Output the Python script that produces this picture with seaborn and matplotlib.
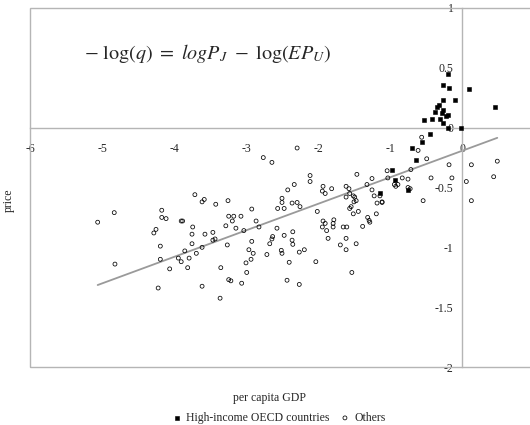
import numpy as np
import pandas as pd
import matplotlib
matplotlib.use("Agg")
import matplotlib.pyplot as plt
from matplotlib.patches import Rectangle
import seaborn as sns

# data (log per capita GDP relative to US, log price level)
oecd_gdp = [-0.19, -0.26, -0.18, 0.10, -0.10, -0.26, -0.32, -0.35, -0.38, -0.26,
            -0.28, -0.22, -0.19, -0.31, -0.26, -0.42, -0.53, 0.46, -0.19, -0.01,
            -0.44, -0.56, -0.69, -0.64, -0.97, -0.93, -0.75, -1.14]
oecd_price = [0.45, 0.36, 0.33, 0.32, 0.23, 0.23, 0.19, 0.17, 0.13, 0.15,
              0.12, 0.10, 0.11, 0.075, 0.04, 0.075, 0.06, 0.17, 0.0, 0.0,
              -0.05, -0.12, -0.17, -0.27, -0.35, -0.44, -0.52, -0.55]

other_gdp = [-5.06, -4.83, -4.82, -4.17, -4.17, -4.11, -3.90, -3.88, -4.25, -4.28,
             -4.19, -4.19, -3.94, -3.90, -4.06, -4.22, -3.85,
             -2.76, -2.64, -3.71, -3.61, -3.58, -3.42, -3.25, -2.92, -3.24,
             -3.17, -3.07, -3.19, -2.86, -3.28, -3.14, -3.03, -2.82, -2.57,
             -3.74, -3.75, -3.57, -3.46, -3.43, -3.46, -2.63, -2.64, -2.67,
             -2.92, -3.75, -3.26, -3.61, -2.96, -2.90, -3.69, -2.71, -3.79,
             -2.93, -3.00, -3.81, -3.35, -2.99, -3.24, -3.21, -3.06, -3.61,
             -3.36, -2.56,
             -2.29, -2.11, -2.11, -2.33, -2.42, -1.46, -1.32, -1.25, -1.93,
             -1.94, -1.90, -1.81, -1.61, -1.57, -1.25, -1.56, -1.51, -1.61,
             -1.49, -1.47, -1.50, -1.22, -2.50, -2.50, -2.29, -2.36, -2.25,
             -2.47, -1.54, -1.56, -2.01, -1.51, -1.44, -1.31, -1.29, -1.28,
             -1.93, -1.90, -1.78, -1.79, -1.94, -1.79, -1.65, -1.60, -1.38,
             -1.88, -2.35, -2.47, -1.86, -1.61, -2.36, -2.35, -1.47, -1.69,
             -1.61, -2.19, -2.26, -2.51, -2.50, -2.40, -2.03, -1.53, -2.43,
             -2.26,
             -0.56, -0.61, -0.49, -0.43, -1.04, -1.03, -0.83, -0.71, -0.94,
             -0.92, -0.89, -0.75, -0.75, -0.72, -1.14, -1.18, -1.11, -1.11,
             -0.54, -1.19,
             -0.18, 0.13, 0.49, -0.14, 0.06, 0.44, 0.13]
other_price = [-0.79, -0.71, -1.14, -0.69, -0.75, -0.76, -0.78, -0.78, -0.85, -0.88,
               -0.99, -1.10, -1.09, -1.12, -1.18, -1.34, -1.03,
               -0.25, -0.29, -0.56, -0.62, -0.60, -0.64, -0.61, -0.68, -0.74,
               -0.74, -0.74, -0.78, -0.78, -0.82, -0.84, -0.86, -0.83, -0.84,
               -0.83, -0.89, -0.89, -0.875, -0.93, -0.94, -0.91, -0.93, -0.97,
               -0.95, -0.97, -0.98, -1.00, -1.02, -1.05, -1.05, -1.06, -1.09,
               -1.10, -1.13, -1.17, -1.17, -1.21, -1.27, -1.28, -1.30, -1.325,
               -1.425, -0.675,
               -0.17, -0.40, -0.45, -0.475, -0.52, -0.39, -0.475, -0.425, -0.49,
               -0.53, -0.55, -0.51, -0.49, -0.51, -0.52, -0.55, -0.57, -0.58,
               -0.58, -0.61, -0.62, -0.57, -0.59, -0.625, -0.625, -0.63, -0.66,
               -0.675, -0.66, -0.675, -0.70, -0.72, -0.70, -0.75, -0.775, -0.79,
               -0.78, -0.80, -0.77, -0.80, -0.83, -0.83, -0.83, -0.83, -0.825,
               -0.86, -0.87, -0.90, -0.925, -0.925, -0.94, -0.975, -0.97, -0.98,
               -1.02, -1.02, -1.04, -1.025, -1.05, -1.125, -1.12, -1.21, -1.275,
               -1.31,
               -0.08, -0.19, -0.26, -0.42, -0.36, -0.42, -0.42, -0.35, -0.475,
               -0.49, -0.475, -0.43, -0.50, -0.51, -0.57, -0.63, -0.62, -0.625,
               -0.61, -0.72,
               -0.31, -0.31, -0.28, -0.42, -0.45, -0.41, -0.61]

# fitted line end points
fit_gdp = [-5.06, 0.49]
fit_price = [-1.315, -0.085]

x_ticks = [-6, -5, -4, -3, -2, -1, 0]
y_ticks = [-2, -1.5, -1, -0.5, 0, 0.5, 1]
y_ticklabels = ["-2", "-1.5", "-1", "-0.5", "0", "0.5", "1"]

oecd = pd.DataFrame({"gdp": oecd_gdp, "price": oecd_price})
others = pd.DataFrame({"gdp": other_gdp, "price": other_price})
fit = pd.DataFrame({"gdp": fit_gdp, "price": fit_price})

sns.set_style("white")
plt.rcParams["font.family"] = ["Liberation Serif", "DejaVu Serif"]
plt.rcParams["mathtext.fontset"] = "stix"
plt.rcParams["axes.unicode_minus"] = False

grey = "#b5b5b5"
fig = plt.figure(figsize=(5.3, 4.25), dpi=100)
ax = fig.add_axes([30 / 530, 1 - 367 / 425, 504 / 530, 359 / 425])

sns.lineplot(data=fit, x="gdp", y="price", color="#9a9a9a", linewidth=1.3, ax=ax)
sns.scatterplot(data=oecd, x="gdp", y="price", marker="s", color="black",
                edgecolor="black", s=7, linewidth=0.4, ax=ax,
                label="High-income OECD countries", zorder=3)
sns.scatterplot(data=others, x="gdp", y="price", marker="o", color="black",
                facecolor="none", edgecolor="black", s=8, linewidth=0.55, ax=ax,
                label="Others", zorder=3)

ax.set_xlim(-6, 1)
ax.set_ylim(-2, 1)

# axes crossing at the origin
for side in ["top", "right"]:
    ax.spines[side].set_visible(False)
ax.spines["bottom"].set_position(("data", 0))
ax.spines["left"].set_position(("data", 0))
for side in ["bottom", "left"]:
    ax.spines[side].set_color(grey)
    ax.spines[side].set_linewidth(1.0)
ax.add_patch(Rectangle((0, 0), 1, 1, transform=ax.transAxes, fill=False,
                       edgecolor=grey, linewidth=1.0, clip_on=False))

ax.set_xticks(x_ticks)
ax.set_yticks(y_ticks)
ax.set_yticklabels(y_ticklabels)
ax.tick_params(axis="x", direction="in", length=3, color=grey, pad=11, labelsize=8.5)
ax.tick_params(axis="y", direction="in", length=3, color=grey, pad=6, labelsize=8.5)

ax.set_xlabel("per capita GDP", fontsize=8.5)
ax.set_ylabel("price", fontsize=8.5)
ax.xaxis.set_label_coords(0.476, -0.07)
ax.yaxis.set_label_coords(-0.03, 0.465)

ax.text(-5.25, 0.62, r"$-\ \log(q)\ =\ logP_J\ -\ \log(EP_U)$", fontsize=14.5,
        va="center", ha="left")

handles, labels = ax.get_legend_handles_labels()
ax.get_legend().remove()
fig.legend(handles, labels, loc="center", bbox_to_anchor=(0.525, 1 - 418 / 425),
           ncol=2, frameon=False, fontsize=8.5, handletextpad=0.3,
           handlelength=1.0, columnspacing=0.8, markerscale=1.0)

fig.savefig("out.png", dpi=100)
